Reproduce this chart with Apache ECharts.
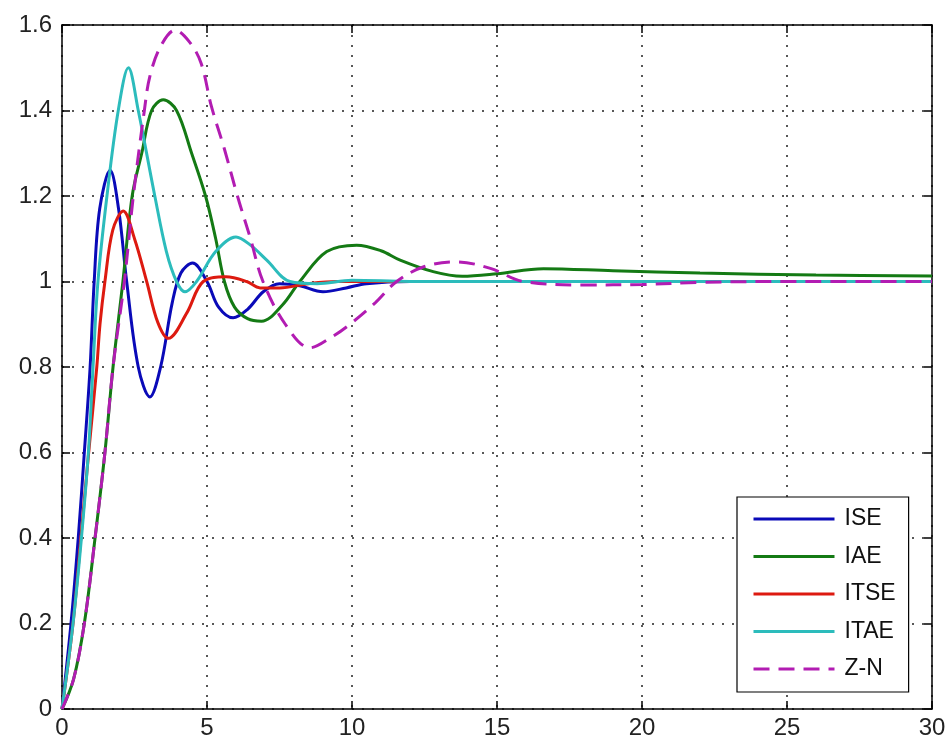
<!DOCTYPE html>
<html>
<head>
<meta charset="utf-8">
<script src="https://cdn.jsdelivr.net/npm/echarts@6/dist/echarts.min.js"></script>
<style>
  html, body { margin: 0; padding: 0; background: #fff; }
  #chart { width: 949px; height: 744px; }
</style>
</head>
<body>
<div id="chart"></div>
<script>
// step responses: time (s) and output
const iseT = [0, 0.31, 0.56, 0.77, 0.97, 1.11, 1.3, 1.66, 1.95, 2.23, 2.63, 3.03, 3.4, 3.8, 4.1, 4.5, 5.0, 5.4, 5.9, 6.4, 6.94, 7.5, 8.2, 9.0, 9.8, 10.5, 12, 30]
const iseV = [0, 0.2, 0.4, 0.6, 0.8, 1.0, 1.17, 1.26, 1.17, 1.0, 0.8, 0.73, 0.8, 0.95, 1.02, 1.043, 1.0, 0.94, 0.915, 0.935, 0.976, 0.995, 0.99, 0.976, 0.985, 0.995, 1.0, 1.0]

const iaeT = [0, 0.4, 0.77, 1.14, 1.48, 1.76, 2.1, 2.42, 2.75, 3.09, 3.49, 3.95, 4.47, 4.95, 5.3, 5.6, 5.95, 6.4, 6.88, 7.6, 8.2, 9.13, 10.16, 11.0, 11.66, 12.8, 13.8, 15, 16.6, 19, 22, 26, 30]
const iaeV = [0, 0.07, 0.2, 0.4, 0.6, 0.8, 1.0, 1.2, 1.3, 1.4, 1.425, 1.4, 1.3, 1.2, 1.1, 1.0, 0.94, 0.913, 0.907, 0.945, 1.0, 1.07, 1.085, 1.072, 1.05, 1.023, 1.012, 1.018, 1.03, 1.025, 1.02, 1.015, 1.013]

const itseT = [0, 0.38, 0.65, 0.92, 1.2, 1.31, 1.48, 1.75, 2.11, 2.5, 2.92, 3.3, 3.67, 4.3, 4.87, 5.65, 6.37, 6.83, 7.5, 8.5, 9.5, 30]
const itseV = [0, 0.2, 0.4, 0.6, 0.8, 0.9, 1.0, 1.12, 1.165, 1.1, 1.0, 0.905, 0.867, 0.926, 1.0, 1.011, 1.0, 0.985, 0.985, 0.995, 1.0, 1.0]

const itaeT = [0, 0.38, 0.67, 0.91, 1.07, 1.24, 1.55, 1.94, 2.29, 2.63, 3.2, 3.6, 3.95, 4.24, 4.64, 5.3, 6.0, 6.5, 7.06, 7.86, 8.8, 10, 12, 30]
const itaeV = [0, 0.2, 0.4, 0.6, 0.8, 1.0, 1.2, 1.4, 1.5, 1.4, 1.2, 1.07, 1.0, 0.976, 1.0, 1.07, 1.104, 1.085, 1.05, 1.0, 0.995, 1.003, 1.0, 1.0]

const znT = [0, 0.4, 0.77, 1.14, 1.48, 1.76, 2.15, 2.46, 2.84, 3.03, 3.4, 3.9, 4.4, 4.8, 5.15, 5.6, 6.05, 6.5, 6.93, 7.7, 8.55, 9.3, 9.93, 10.8, 11.54, 12.5, 13.6, 14.8, 15.9, 18, 20, 22, 25, 30]
const znV = [0, 0.07, 0.2, 0.4, 0.6, 0.8, 1.0, 1.2, 1.4, 1.48, 1.55, 1.588, 1.56, 1.51, 1.41, 1.31, 1.2, 1.1, 1.0, 0.9, 0.845, 0.87, 0.9, 0.95, 1.0, 1.035, 1.046, 1.03, 1.0, 0.992, 0.993, 0.998, 1.0, 1.0]

const names = ['ISE', 'IAE', 'ITSE', 'ITAE', 'Z-N']

const font = '"Liberation Sans", Arial, sans-serif'
const dots = { type: [2, 8], color: '#222', width: 1.5 }

const pairs = (t, v) => t.map((x, i) => [x, v[i]])

function makeSeries (name, data, color, dashed) {
  return {
    name: name,
    type: 'line',
    data: data,
    smooth: 0.35,
    symbol: 'none',
    showSymbol: false,
    lineStyle: { color: color, width: 3, type: dashed ? [16, 9] : 'solid' },
    itemStyle: { color: color }
  }
}

function box (pos, isX) {
  const ax = {
    type: 'value',
    position: pos,
    min: 0,
    max: isX ? 30 : 1.6,
    interval: isX ? 5 : 0.2,
    axisLine: { show: true, onZero: false, lineStyle: { color: '#000', width: 1.5 } },
    axisTick: { show: true, inside: true, length: 8, lineStyle: { color: '#000', width: 1.5 } },
    axisLabel: { show: false },
    splitLine: { show: false }
  }
  return ax
}

const xMain = box('bottom', true)
xMain.axisLabel = { show: true, fontSize: 24, fontFamily: font, color: '#222', margin: 7 }
xMain.splitLine = { show: true, lineStyle: dots }
const yMain = box('left', false)
yMain.axisLabel = { show: true, fontSize: 24, fontFamily: font, color: '#222', margin: 10 }
yMain.splitLine = { show: true, lineStyle: dots }

const option = {
  animation: false,
  backgroundColor: '#fff',
  grid: { left: 62, right: 17, top: 25, bottom: 35 },
  xAxis: [xMain, box('top', true)],
  yAxis: [yMain, box('right', false)],
  legend: {
    data: names,
    orient: 'vertical',
    left: 737,
    top: 497,
    padding: [9, 13, 10, 15],
    itemWidth: 81,
    itemHeight: 14,
    itemGap: 11.5,
    backgroundColor: '#fff',
    borderColor: '#000',
    borderWidth: 1.2,
    itemStyle: { opacity: 0 },
    lineStyle: { width: 3 },
    textStyle: { fontSize: 23, fontFamily: font, color: '#111', lineHeight: 26, padding: [0, 0, 0, 5] }
  },
  series: [
    makeSeries('ISE', pairs(iseT, iseV), '#0a0ab8'),
    makeSeries('IAE', pairs(iaeT, iaeV), '#147a14'),
    makeSeries('ITSE', pairs(itseT, itseV), '#dd1a10'),
    makeSeries('ITAE', pairs(itaeT, itaeV), '#2cbcbc'),
    makeSeries('Z-N', pairs(znT, znV), '#b21cb2', true)
  ]
}

const chart = echarts.init(document.getElementById('chart'))
chart.setOption(option)
</script>
</body>
</html>
